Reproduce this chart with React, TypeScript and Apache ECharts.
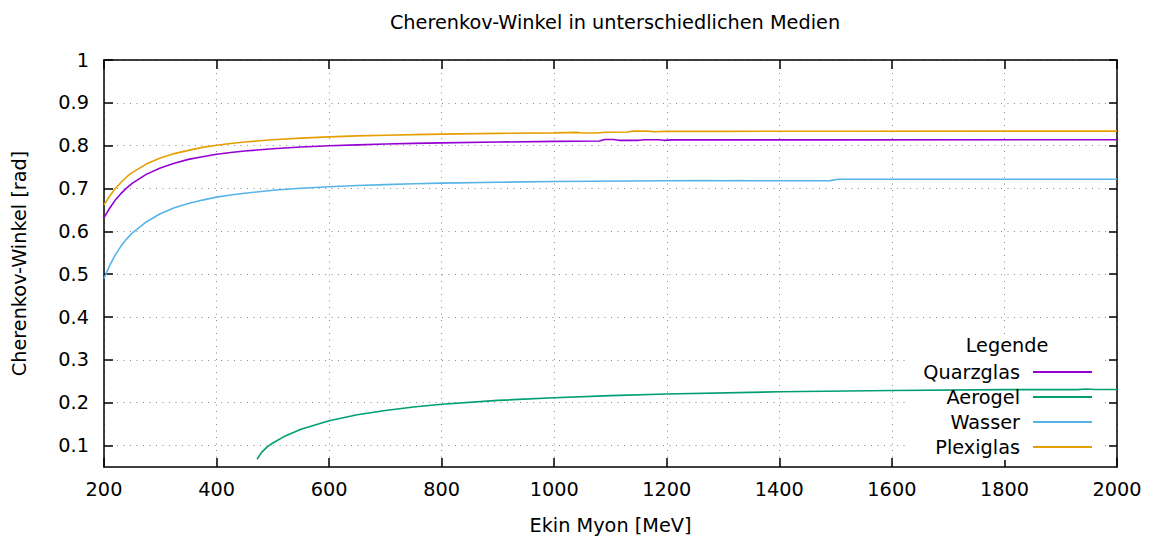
import React, { useEffect, useRef } from "react";
import * as echarts from "echarts";

const titleText = "Cherenkov-Winkel in unterschiedlichen Medien";
const xName = "Ekin Myon [MeV]";
const yName = "Cherenkov-Winkel [rad]";
const legendTitle = "Legende";

const yTickValues = [0.1, 0.2, 0.3, 0.4, 0.5, 0.6, 0.7, 0.8, 0.9, 1];

const seriesNames = ["Quarzglas", "Aerogel", "Wasser", "Plexiglas"];
const seriesColors = ["#9400d3", "#009e73", "#56b4e9", "#e69f00"];

const quarzX = [200, 210, 220, 230, 240, 250, 275, 300, 325, 350, 375, 400, 425, 450, 500, 550, 600, 650, 700, 750, 800, 900, 1000, 1080, 1090, 1105, 1115, 1150, 1160, 1185, 1195, 1210, 1300, 1500, 2000];
const quarzY = [0.632, 0.654, 0.673, 0.688, 0.701, 0.712, 0.733, 0.748, 0.759, 0.768, 0.774, 0.780, 0.784, 0.7875, 0.793, 0.797, 0.800, 0.802, 0.804, 0.8055, 0.8065, 0.8085, 0.810, 0.811, 0.8145, 0.8145, 0.8125, 0.8125, 0.814, 0.814, 0.8125, 0.8135, 0.8135, 0.8135, 0.8138];

const aeroX = [472, 480, 490, 500, 520, 550, 600, 650, 700, 750, 800, 900, 1000, 1100, 1200, 1400, 1600, 1800, 1880, 1900, 1930, 1945, 1960, 2000];
const aeroY = [0.068, 0.084, 0.097, 0.106, 0.121, 0.138, 0.158, 0.172, 0.182, 0.190, 0.1965, 0.2055, 0.2115, 0.2165, 0.2205, 0.2255, 0.2285, 0.2305, 0.231, 0.2305, 0.2305, 0.232, 0.231, 0.231];

const wasserX = [200, 210, 220, 230, 240, 250, 275, 300, 325, 350, 375, 400, 425, 450, 500, 550, 600, 650, 700, 750, 800, 900, 1000, 1200, 1270, 1300, 1330, 1345, 1490, 1505, 2000];
const wasserY = [0.490, 0.520, 0.545, 0.565, 0.582, 0.596, 0.622, 0.641, 0.655, 0.665, 0.673, 0.680, 0.685, 0.689, 0.696, 0.7005, 0.704, 0.707, 0.709, 0.711, 0.7125, 0.7145, 0.7165, 0.718, 0.7185, 0.718, 0.7185, 0.718, 0.7185, 0.7215, 0.7215];

const plexiX = [200, 210, 220, 230, 240, 250, 275, 300, 325, 350, 375, 400, 425, 450, 500, 550, 600, 650, 700, 750, 800, 900, 1000, 1040, 1050, 1075, 1090, 1130, 1140, 1165, 1180, 1195, 1300, 1500, 2000];
const plexiY = [0.662, 0.682, 0.700, 0.714, 0.727, 0.737, 0.757, 0.771, 0.7815, 0.789, 0.796, 0.801, 0.805, 0.8085, 0.814, 0.8177, 0.8205, 0.8228, 0.8245, 0.8259, 0.827, 0.8288, 0.830, 0.831, 0.8295, 0.8295, 0.8315, 0.832, 0.834, 0.834, 0.8325, 0.8335, 0.8335, 0.8338, 0.834];

const seriesX = [quarzX, aeroX, wasserX, plexiX];
const seriesY = [quarzY, aeroY, wasserY, plexiY];

const FONT = "DejaVu Sans";
const FS = 19.3;

export default function App() {
  const ref = useRef<HTMLDivElement>(null);
  useEffect(() => {
    if (!ref.current) return;
    const chart = echarts.init(ref.current, undefined, { renderer: "svg" });
    const gridLine = { show: true, lineStyle: { color: "#8a8a8a", width: 1, type: [1, 5.5] as any } };
    const option: any = {
      animation: false,
      backgroundColor: "#fff",
      textStyle: { fontFamily: FONT },
      title: [
        { text: titleText, left: 610, top: 8, textAlign: "center", textStyle: { fontFamily: FONT, fontSize: FS, fontWeight: "normal", color: "#000" } },
        { text: legendTitle, left: 1007, top: 336, textAlign: "center", padding: 0, textStyle: { fontFamily: FONT, fontSize: FS, fontWeight: "normal", color: "#000" } },
      ],
      graphic: [
        { type: "rect", z: 1, shape: { x: 907, y: 335, width: 198, height: 125 }, style: { fill: "#fff" }, silent: true },
      ],
      legend: seriesNames.map((n, i) => ({
        data: [n],
        orient: "vertical",
        right: 61,
        top: 362 + i * 25,
        padding: 0,
        align: "right",
        icon: "rect",
        itemWidth: 59,
        itemHeight: 2,
        selectedMode: false,
        textStyle: { fontFamily: FONT, fontSize: FS, color: "#000", lineHeight: 20, padding: [0, 8, 0, 0] },
      })),
      grid: { left: 104, top: 60, width: 1013, height: 409, containLabel: false },
      xAxis: [
        {
          type: "value", min: 200, max: 2000, interval: 200, position: "bottom",
          name: xName, nameLocation: "middle", nameGap: 49,
          nameTextStyle: { fontFamily: FONT, fontSize: FS, color: "#000" },
          axisLine: { show: true, lineStyle: { color: "#000", width: 1.5 } },
          axisTick: { show: true, inside: true, length: 9, lineStyle: { color: "#000", width: 1.5 } },
          axisLabel: { fontFamily: FONT, fontSize: FS, color: "#000", margin: 13, formatter: (v: number) => String(v) },
          splitLine: gridLine,
        },
        {
          type: "value", min: 200, max: 2000, interval: 200, position: "top",
          axisLine: { show: true, lineStyle: { color: "#000", width: 1.5 } },
          axisTick: { show: true, inside: true, length: 9, lineStyle: { color: "#000", width: 1.5 } },
          axisLabel: { show: false },
          splitLine: { show: false },
        },
      ],
      yAxis: [
        {
          type: "value", min: 0.05, max: 1, position: "left",
          name: yName, nameLocation: "middle", nameGap: 75, nameRotate: 90,
          nameTextStyle: { fontFamily: FONT, fontSize: FS, color: "#000" },
          axisLine: { show: true, lineStyle: { color: "#000", width: 1.5 } },
          axisTick: { show: true, inside: true, length: 9, customValues: yTickValues, lineStyle: { color: "#000", width: 1.5 } },
          axisLabel: {
            fontFamily: FONT, fontSize: FS, color: "#000", margin: 15, customValues: yTickValues,
            formatter: (v: number) => (Math.abs(v - 1) < 1e-9 ? "1" : v.toFixed(1)),
          },
          splitLine: gridLine,
        },
        {
          type: "value", min: 0.05, max: 1, position: "right",
          axisLine: { show: true, lineStyle: { color: "#000", width: 1.5 } },
          axisTick: { show: true, inside: true, length: 8, customValues: yTickValues, lineStyle: { color: "#000", width: 1.5 } },
          axisLabel: { show: false },
          splitLine: { show: false },
        },
      ],
      series: seriesNames.map((n, i) => ({
        name: n,
        type: "line",
        xAxisIndex: 0,
        yAxisIndex: 0,
        showSymbol: false,
        symbol: "none",
        smooth: false,
        color: seriesColors[i],
        lineStyle: { color: seriesColors[i], width: 1.6 },
        data: seriesX[i].map((x, j) => [x, seriesY[i][j]]),
        z: 3,
      })),
    };
    chart.setOption(option);
    return () => chart.dispose();
  }, []);
  return <div ref={ref} style={{ position: "fixed", left: 0, top: 0, width: 1153, height: 540 }} />;
}
